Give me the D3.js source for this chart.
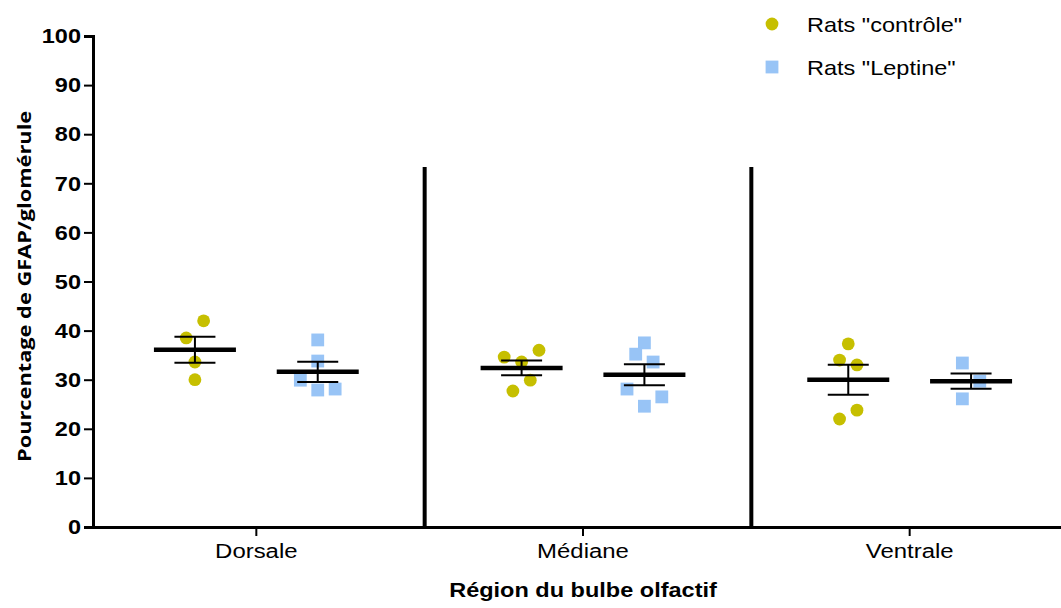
<!DOCTYPE html>
<html lang="fr">
<head>
<meta charset="utf-8">
<title>GFAP par glomérule</title>
<script src="https://cdn.jsdelivr.net/npm/d3@7"></script>
<style>
	html, body { margin: 0; padding: 0; background: #fff; }
	#chart-area { width: 1061px; height: 608px; }
	svg text { font-family: "Liberation Sans", Arial, sans-serif; fill: #000; }
</style>
</head>
<body>
<div id="chart-area"></div>
<script>

// categories
let regions = ["Dorsale", "Médiane", "Ventrale"];
let groupNames = ["Rats \"contrôle\"", "Rats \"Leptine\""];
let yTicks = [0, 10, 20, 30, 40, 50, 60, 70, 80, 90, 100];

// individual values per region
let controleValues = [[42.0, 38.5, 33.6, 30.0], [34.6, 33.6, 36.0, 29.9, 27.7], [37.3, 34.0, 33.0, 23.8, 22.0]];
let leptineValues = [[38.1, 33.8, 29.9, 27.9, 28.1], [37.5, 35.2, 33.6, 28.1, 26.5, 24.6], [33.4, 29.7, 26.1]];

// horizontal slot of each point (scatter spread, in half-marker units)
let controleSlots = [[1, -1, 0, 0], [-2, 0, 2, 1, -1], [0, -1, 1, 1, -1]];
let leptineSlots = [[0, 0, -2, 0, 2], [0, -1, 1, -2, 2, 0], [-1, 1, -1]];

// mean and SEM
let controleMeans = [36.1, 32.4, 30.0];
let controleSems = [2.65, 1.5, 3.05];
let leptineMeans = [31.6, 31.0, 29.7];
let leptineSems = [2.05, 2.15, 1.55];

// top of the region separators
let separatorTop = 73.3;


class ScatterVis {

	constructor(parentElement) {
		this.parentElement = parentElement;
		this.colors = ["#c6bf00", "#98c4f6"];
		// the original text is a little wider than Arial
		this.stretch = 1.12;
		this.initVis();
	}

	initVis() {
		let vis = this;

		vis.margin = {top: 36, right: -12, bottom: 81, left: 93};
		vis.width = 1061 - vis.margin.left - vis.margin.right;
		vis.height = 608 - vis.margin.top - vis.margin.bottom;

		vis.svg = d3.select("#" + vis.parentElement).append("svg")
			.attr("width", 1061)
			.attr("height", 608)
			.append("g")
			.attr("transform", `translate(${vis.margin.left}, ${vis.margin.top})`);

		// scales
		vis.x = d3.scaleBand()
			.domain(regions)
			.range([0, vis.width])
			.padding(0);

		vis.xGroup = d3.scalePoint()
			.domain([0, 1])
			.range([-vis.x.bandwidth() / 2, vis.x.bandwidth() / 2])
			.padding(0.83);

		vis.y = d3.scaleLinear()
			.domain([0, 100])
			.range([vis.height, 0]);

		// y axis
		vis.yAxisG = vis.svg.append("g")
			.attr("class", "y-axis")
			.call(d3.axisLeft(vis.y).tickValues(yTicks).tickSize(9).tickPadding(3));
		vis.yAxisG.select(".domain").attr("stroke-width", 3);
		vis.yAxisG.selectAll(".tick line").attr("stroke-width", 2);
		vis.yAxisG.selectAll(".tick text")
			.attr("x", null)
			.attr("transform", `translate(-12, 0) scale(${vis.stretch}, 1)`)
			.style("font-size", "21px")
			.style("font-weight", "bold");

		// x axis
		vis.xAxisG = vis.svg.append("g")
			.attr("class", "x-axis")
			.attr("transform", `translate(0, ${vis.height})`)
			.call(d3.axisBottom(vis.x).tickSize(9).tickSizeOuter(0).tickPadding(7));
		vis.xAxisG.select(".domain").attr("stroke-width", 3);
		vis.xAxisG.selectAll(".tick line").attr("stroke-width", 2);
		vis.xAxisG.selectAll(".tick text")
			.attr("transform", `scale(${vis.stretch + 0.02}, 1)`)
			.style("font-size", "21px");

		// axis titles
		vis.svg.append("text")
			.attr("transform", `translate(${vis.width / 2}, ${vis.height + 70}) scale(${vis.stretch}, 1)`)
			.attr("text-anchor", "middle")
			.style("font-size", "21px")
			.style("font-weight", "bold")
			.text("Région du bulbe olfactif");

		vis.svg.append("text")
			.attr("transform", `translate(${-62}, ${vis.y(49)}) rotate(-90) scale(1.21, 1)`)
			.attr("text-anchor", "middle")
			.style("font-family", "'Open Sans', sans-serif")
			.style("font-size", "18px")
			.style("font-weight", "bold")
			.text("Pourcentage de GFAP/glomérule");

		vis.wrangleData();
	}

	wrangleData() {
		let vis = this;

		vis.points = [];
		vis.stats = [];

		regions.forEach((region, i) => {
			controleValues[i].forEach((v, j) => {
				vis.points.push({region: region, group: 0, value: v, slot: controleSlots[i][j]});
			});
			leptineValues[i].forEach((v, j) => {
				vis.points.push({region: region, group: 1, value: v, slot: leptineSlots[i][j]});
			});
			vis.stats.push({region: region, group: 0, mean: controleMeans[i], sem: controleSems[i]});
			vis.stats.push({region: region, group: 1, mean: leptineMeans[i], sem: leptineSems[i]});
		});

		vis.updateVis();
	}

	updateVis() {
		let vis = this;

		let slotWidth = 8.7;
		let cx = d => vis.x(d.region) + vis.x.bandwidth() / 2 + vis.xGroup(d.group);

		// separators between regions
		vis.svg.selectAll(".separator")
			.data(regions.slice(1))
			.enter()
			.append("line")
			.attr("class", "separator")
			.attr("x1", d => vis.x(d) + 5)
			.attr("x2", d => vis.x(d) + 5)
			.attr("y1", vis.y(0))
			.attr("y2", vis.y(separatorTop))
			.attr("stroke", "#000")
			.attr("stroke-width", 4);

		// control points: circles
		vis.svg.selectAll(".dot")
			.data(vis.points.filter(d => d.group === 0))
			.enter()
			.append("circle")
			.attr("class", "dot")
			.attr("cx", d => cx(d) + d.slot * slotWidth)
			.attr("cy", d => vis.y(d.value))
			.attr("r", 6.4)
			.attr("fill", vis.colors[0]);

		// leptine points: squares
		let side = 12.8;
		vis.svg.selectAll(".square")
			.data(vis.points.filter(d => d.group === 1))
			.enter()
			.append("rect")
			.attr("class", "square")
			.attr("x", d => cx(d) + d.slot * slotWidth - side / 2)
			.attr("y", d => vis.y(d.value) - side / 2)
			.attr("width", side)
			.attr("height", side)
			.attr("fill", vis.colors[1]);

		// mean and SEM bars
		let statG = vis.svg.selectAll(".stat")
			.data(vis.stats)
			.enter()
			.append("g")
			.attr("class", "stat")
			.attr("transform", d => `translate(${cx(d)}, 0)`);

		statG.append("line")
			.attr("x1", 0).attr("x2", 0)
			.attr("y1", d => vis.y(d.mean + d.sem))
			.attr("y2", d => vis.y(d.mean - d.sem))
			.attr("stroke", "#000")
			.attr("stroke-width", 2);

		statG.selectAll(".cap")
			.data(d => [d.mean + d.sem, d.mean - d.sem])
			.enter()
			.append("line")
			.attr("class", "cap")
			.attr("x1", -20.5).attr("x2", 20.5)
			.attr("y1", d => vis.y(d))
			.attr("y2", d => vis.y(d))
			.attr("stroke", "#000")
			.attr("stroke-width", 2);

		statG.append("line")
			.attr("x1", -41).attr("x2", 41)
			.attr("y1", d => vis.y(d.mean))
			.attr("y2", d => vis.y(d.mean))
			.attr("stroke", "#000")
			.attr("stroke-width", 4.5);

		// legend
		let legend = d3.select("#" + vis.parentElement).select("svg")
			.append("g")
			.attr("transform", "translate(772, 24)");

		let legendItem = legend.selectAll(".legend-item")
			.data(groupNames)
			.enter()
			.append("g")
			.attr("class", "legend-item")
			.attr("transform", (d, i) => `translate(0, ${i * 43})`);

		legendItem.filter((d, i) => i === 0)
			.append("circle")
			.attr("r", 6.4)
			.attr("fill", vis.colors[0]);

		legendItem.filter((d, i) => i === 1)
			.append("rect")
			.attr("x", -side / 2)
			.attr("y", -side / 2)
			.attr("width", side)
			.attr("height", side)
			.attr("fill", vis.colors[1]);

		legendItem.append("text")
			.attr("transform", `translate(35, 7.5) scale(${vis.stretch}, 1)`)
			.style("font-size", "21px")
			.text(d => d);
	}
}

new ScatterVis("chart-area");

</script>
</body>
</html>
